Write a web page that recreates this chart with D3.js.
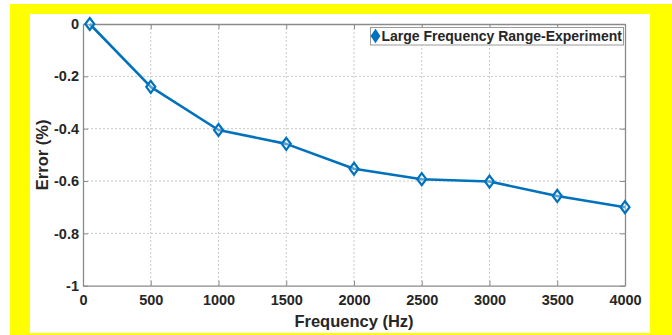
<!DOCTYPE html>
<html>
<head>
<meta charset="utf-8">
<script src="https://cdn.jsdelivr.net/npm/d3@7"></script>
<style>
  html, body { margin: 0; padding: 0; background: #fff; }
  svg { display: block; }
  text { font-family: "Liberation Sans", Arial, sans-serif; font-weight: bold; fill: #262626; }
</style>
</head>
<body>
<script>
// Measured error versus excitation frequency
const frequencies = [50, 500, 1000, 1500, 2000, 2500, 3000, 3500, 4000];
const errors = [0, -0.24, -0.405, -0.458, -0.553, -0.593, -0.602, -0.657, -0.70];
const xTicks = [0, 500, 1000, 1500, 2000, 2500, 3000, 3500, 4000];
const yTicks = [0, -0.2, -0.4, -0.6, -0.8, -1];
const seriesName = "Large Frequency Range-Experiment";

const W = 672, H = 335;
const svg = d3.select("body").append("svg").attr("width", W).attr("height", H);

// yellow frame around the white figure area
svg.append("rect").attr("x", 10).attr("y", 4).attr("width", W - 10).attr("height", H - 4).attr("fill", "#ffff00");
svg.append("rect").attr("x", 30).attr("y", 14).attr("width", 620).attr("height", 319).attr("fill", "#ffffff");

const pL = 83, pR = 625, pT = 24, pB = 285.7;
const x = d3.scaleLinear().domain([0, 4000]).range([pL, pR]);
const y = d3.scaleLinear().domain([-1, 0]).range([pB, pT]);

// plain hyphen-minus labels, no thousands separators
const fmtX = d => String(d);
const fmtY = d => String(d);

// grid
const grid = svg.append("g");
grid.selectAll(".gx").data(xTicks.slice(1, -1)).join("line")
  .attr("x1", d => x(d)).attr("x2", d => x(d)).attr("y1", pT).attr("y2", pB)
  .attr("stroke", "#c8c8c8").attr("stroke-width", 1).attr("stroke-dasharray", "2,2");
grid.selectAll(".gy").data(yTicks.slice(1, -1)).join("line")
  .attr("x1", pL).attr("x2", pR).attr("y1", d => y(d)).attr("y2", d => y(d))
  .attr("stroke", "#c8c8c8").attr("stroke-width", 1).attr("stroke-dasharray", "2,2");

// axes (ticks pointing inward, box on all sides)
const axisColor = "#8a8a8a";
function styleAxis(g, showLabels) {
  g.select(".domain").attr("stroke", axisColor).attr("stroke-width", 1.3);
  g.selectAll(".tick line").attr("stroke", axisColor).attr("stroke-width", 1);
  if (!showLabels) g.selectAll(".tick text").remove();
}
const xb = svg.append("g").attr("transform", `translate(0,${pB})`)
  .call(d3.axisBottom(x).tickValues(xTicks).tickFormat(fmtX).tickSizeInner(-5).tickSizeOuter(0).tickPadding(9));
styleAxis(xb, true);
xb.selectAll(".tick text").style("font-size", "14.5px").attr("fill", "#262626")
  .style("font-family", "'Liberation Sans', Arial, sans-serif").style("font-weight", "bold");

const xt = svg.append("g").attr("transform", `translate(0,${pT})`)
  .call(d3.axisTop(x).tickValues(xTicks).tickSizeInner(-5).tickSizeOuter(0));
styleAxis(xt, false);

const yl = svg.append("g").attr("transform", `translate(${pL},0)`)
  .call(d3.axisLeft(y).tickValues(yTicks).tickFormat(fmtY).tickSizeInner(-5).tickSizeOuter(0).tickPadding(4));
styleAxis(yl, true);
yl.selectAll(".tick text").style("font-size", "14.5px").attr("fill", "#262626")
  .style("font-family", "'Liberation Sans', Arial, sans-serif").style("font-weight", "bold");

const yr = svg.append("g").attr("transform", `translate(${pR},0)`)
  .call(d3.axisRight(y).tickValues(yTicks).tickSizeInner(-5).tickSizeOuter(0));
styleAxis(yr, false);

// axis titles
svg.append("text").attr("x", (pL + pR) / 2).attr("y", 327)
  .attr("text-anchor", "middle").style("font-size", "16.5px").text("Frequency (Hz)");
svg.append("text").attr("transform", `translate(48,${(pT + pB) / 2}) rotate(-90)`)
  .attr("text-anchor", "middle").style("font-size", "16.5px").text("Error (%)");

// data line and diamond markers
const blue = "#0072bd";
const pts = frequencies.map((f, i) => [f, errors[i]]);
svg.append("path").datum(pts)
  .attr("d", d3.line().x(d => x(d[0])).y(d => y(d[1])))
  .attr("fill", "none").attr("stroke", blue).attr("stroke-width", 2.6).attr("stroke-linejoin", "round");

const diamond = (cx, cy, w, h) => `M${cx},${cy - h}L${cx + w},${cy}L${cx},${cy + h}L${cx - w},${cy}Z`;
svg.selectAll(".mk").data(pts).join("path")
  .attr("d", d => diamond(x(d[0]), y(d[1]), 4.5, 6))
  .attr("fill", "#ffffff").attr("fill-opacity", 0.35)
  .attr("stroke", blue).attr("stroke-width", 2.2);

// legend
const lg = svg.append("g");
lg.append("rect").attr("x", 370.5).attr("y", 27.5).attr("width", 253).attr("height", 17.5)
  .attr("fill", "#ffffff").attr("stroke", "#9a9a9a").attr("stroke-width", 1);
lg.append("path").attr("d", diamond(375.5, 36, 4, 6)).attr("fill", blue).attr("stroke", blue).attr("stroke-width", 1.5);
lg.append("text").attr("x", 381.5).attr("y", 41).style("font-size", "14px").attr("fill", "#000").text(seriesName);
</script>
</body>
</html>
